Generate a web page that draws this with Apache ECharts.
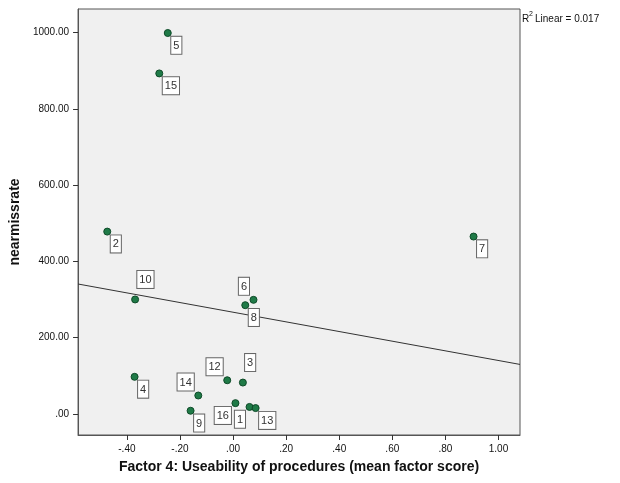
<!DOCTYPE html>
<html>
<head>
<meta charset="utf-8">
<script src="https://cdn.jsdelivr.net/npm/echarts@6/dist/echarts.min.js"></script>
<style>
html,body{margin:0;padding:0;background:#fff;}
#c{width:620px;height:483px;}
</style>
</head>
<body>
<div id="c"></div>
<script>
// ---- data ----
const caseIds  = [5, 15, 2, 10, 8, 6, 7, 4, 12, 3, 14, 9, 16, 1, 13];
const factor4  = [-0.246, -0.278, -0.474, -0.369, 0.046, 0.077, 0.906, -0.371, -0.022, 0.037, -0.131, -0.160, 0.009, 0.062, 0.085];
const nearmiss = [999, 893, 478, 300, 285, 299, 465, 97, 88, 82, 48, 8, 28, 18, 15];
const xTicks = [-0.4, -0.2, 0, 0.2, 0.4, 0.6, 0.8, 1.0];
const yTicks = [0, 200, 400, 600, 800, 1000];
const r2Text = '0.017';

// ---- layout (label placement around points) ----
const XMIN = -0.584, XMAX = 1.081, YMIN = -55.6, YMAX = 1062;
const labelPlacement = {16: 'bl', 1: 'bl', 12: 'tl', 14: 'tl', 6: 'tl', 10: 'tr', 3: 'tr'};
const placements = {
  br: {position: [7.5, 7.8], align: 'left', verticalAlign: 'top'},
  bl: {position: [-0.5, 7.8], align: 'right', verticalAlign: 'top'},
  tl: {position: [-0.5, -1], align: 'right', verticalAlign: 'bottom'},
  tr: {position: [6.2, -7.5], align: 'left', verticalAlign: 'bottom'}
};

// least squares fit line
const n = factor4.length;
const mx = factor4.reduce((a, b) => a + b, 0) / n;
const my = nearmiss.reduce((a, b) => a + b, 0) / n;
let sxy = 0, sxx = 0;
for (let i = 0; i < n; i++) { sxy += (factor4[i] - mx) * (nearmiss[i] - my); sxx += (factor4[i] - mx) ** 2; }
const slope = sxy / sxx, intercept = my - slope * mx;
const fitLine = [[XMIN, intercept + slope * XMIN], [XMAX, intercept + slope * XMAX]];

const points = caseIds.map((id, i) => {
  const p = placements[labelPlacement[id] || 'br'];
  return {value: [factor4[i], nearmiss[i]], name: String(id),
    label: {position: p.position, align: p.align, verticalAlign: p.verticalAlign}};
});

function fmt(v) {
  let s = v.toFixed(2);
  return s.replace(/^(-?)0\./, '$1.');
}

const FONT = 'Liberation Sans, Arial, sans-serif';
const chart = echarts.init(document.getElementById('c'), null, {renderer: 'canvas'});
chart.setOption({
  animation: false,
  backgroundColor: '#ffffff',
  textStyle: {fontFamily: FONT},
  grid: {left: 76, right: 100, top: 9, bottom: 48, show: true,
    backgroundColor: '#f0f0f0', borderColor: '#555', borderWidth: 1},
  xAxis: {
    type: 'value', min: XMIN, max: XMAX,
    name: 'Factor 4: Useability of procedures (mean factor score)',
    nameLocation: 'middle', nameGap: 25,
    nameTextStyle: {fontSize: 14, fontWeight: 'bold', color: '#111'},
    axisLine: {show: true, onZero: false, lineStyle: {color: '#555'}},
    splitLine: {show: false},
    axisTick: {show: true, inside: false, length: 5, customValues: xTicks, lineStyle: {color: '#333'}},
    axisLabel: {customValues: xTicks, formatter: fmt, fontSize: 10, color: '#111', margin: 9}
  },
  yAxis: {
    type: 'value', min: YMIN, max: YMAX,
    name: 'nearmissrate',
    nameLocation: 'middle', nameGap: 56,
    nameTextStyle: {fontSize: 14, fontWeight: 'bold', color: '#111'},
    axisLine: {show: true, onZero: false, lineStyle: {color: '#555'}},
    splitLine: {show: false},
    axisTick: {show: true, inside: false, length: 5, customValues: yTicks, lineStyle: {color: '#333'}},
    axisLabel: {customValues: yTicks, formatter: fmt, fontSize: 10, color: '#111', margin: 9}
  },
  series: [
    {
      type: 'line', data: fitLine, symbol: 'none', silent: true, z: 2,
      lineStyle: {color: '#333', width: 1}
    },
    {
      type: 'scatter', data: points, symbolSize: 7, z: 3,
      itemStyle: {color: '#1f7a47', borderColor: '#0e4a28', borderWidth: 1, opacity: 1},
      label: {
        show: true, formatter: '{b}', fontSize: 11, color: '#333',
        backgroundColor: '#fff', borderColor: '#666', borderWidth: 1,
        padding: [2, 2, 1, 2], lineHeight: 14
      }
    }
  ],
  graphic: [
    {type: 'text', left: 522, top: 14, style: {text: 'R', fontSize: 10, fill: '#111', fontFamily: FONT}},
    {type: 'text', left: 529, top: 11, style: {text: '2', fontSize: 7, fill: '#111', fontFamily: FONT}},
    {type: 'text', left: 535, top: 14, style: {text: 'Linear = ' + r2Text, fontSize: 10, fill: '#111', fontFamily: FONT}}
  ]
});
</script>
</body>
</html>
